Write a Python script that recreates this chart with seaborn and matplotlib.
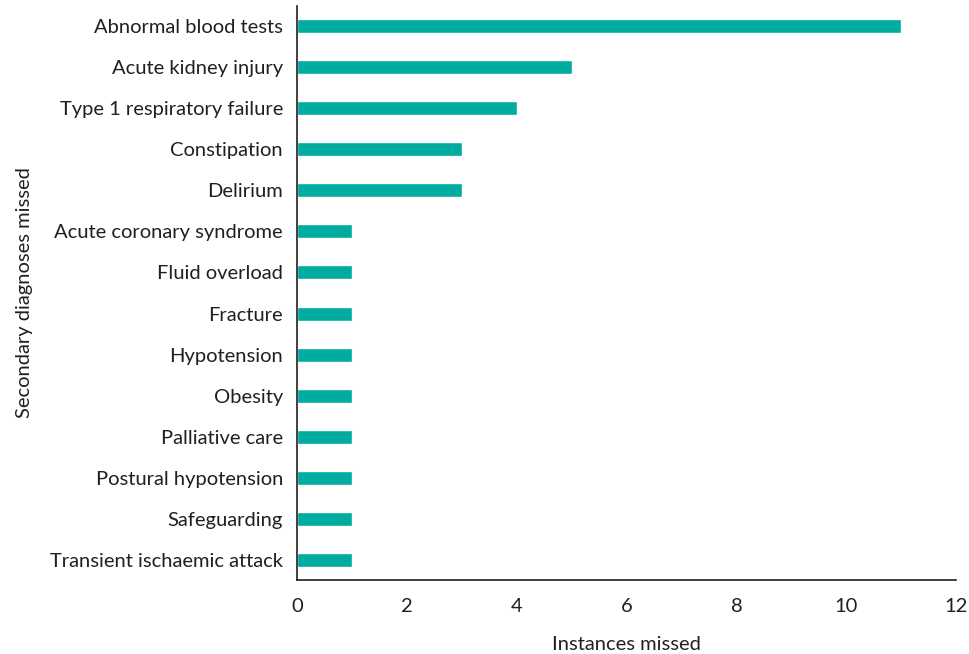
import pandas as pd
import matplotlib
matplotlib.use("Agg")
import matplotlib.pyplot as plt
import seaborn as sns

diagnoses = [
    "Abnormal blood tests", "Acute kidney injury", "Type 1 respiratory failure",
    "Constipation", "Delirium", "Acute coronary syndrome", "Fluid overload",
    "Fracture", "Hypotension", "Obesity", "Palliative care",
    "Postural hypotension", "Safeguarding", "Transient ischaemic attack",
]
instances = [11, 5, 4, 3, 3, 1, 1, 1, 1, 1, 1, 1, 1, 1]
x_ticks = [0, 2, 4, 6, 8, 10, 12]

df = pd.DataFrame({"diagnosis": diagnoses, "instances": instances})

sns.set_style("white")
plt.rcParams["font.family"] = ["Lato", "DejaVu Sans"]

fig = plt.figure(figsize=(9.69, 6.54), dpi=100)
ax = fig.add_axes([0.3065, 0.1125, 0.6805, 0.879])

sns.barplot(data=df, x="instances", y="diagnosis", color="#00AC9F",
            width=0.34, saturation=1, ax=ax)

ax.set_xlim(0, 12)
ax.set_ylim(len(diagnoses) - 0.5, -0.5)
ax.set_xticks(x_ticks)
ax.set_xticklabels([str(t) for t in x_ticks], fontsize=14.5, color="#231f20")
ax.tick_params(axis="x", direction="out", length=8, width=1.2, color="#231f20", pad=5)
ax.tick_params(axis="y", length=0, labelsize=14.5, labelcolor="#231f20", pad=10)

sns.despine(ax=ax)
for s in ["left", "bottom"]:
    ax.spines[s].set_color("#231f20")
    ax.spines[s].set_linewidth(1.2)

ax.set_xlabel("Instances missed", fontsize=14.5, color="#231f20", labelpad=15)
ax.set_ylabel("Secondary diagnoses missed", fontsize=14.5, color="#231f20", labelpad=12)

fig.savefig("out.png", dpi=100)
